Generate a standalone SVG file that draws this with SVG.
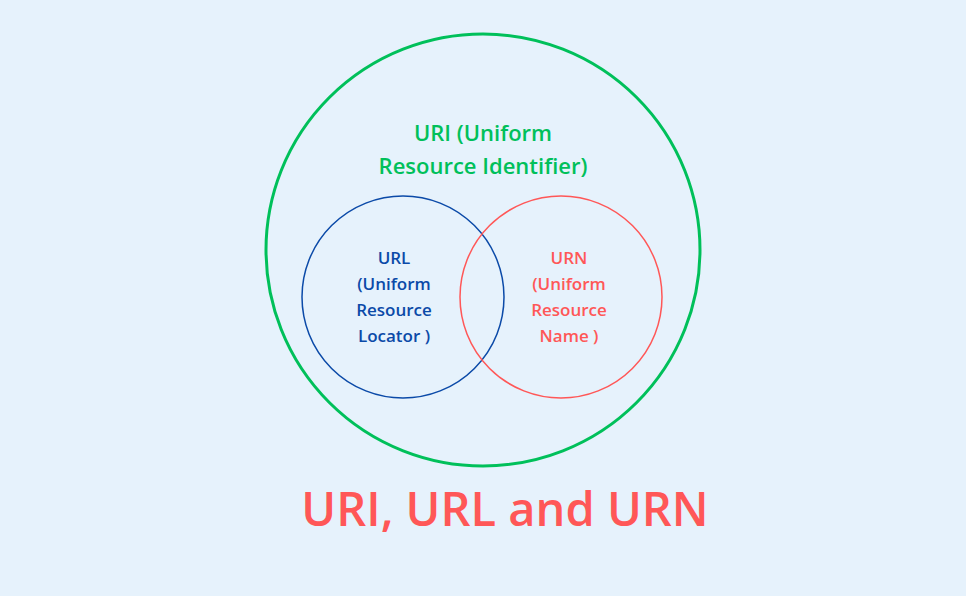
<svg xmlns="http://www.w3.org/2000/svg" width="966" height="596" viewBox="0 0 966 596">
<style>
.t{font-family:"Open Sans","Liberation Sans",sans-serif;font-weight:600;text-anchor:middle}
.s{font-size:17px}
</style>
<rect width="966" height="596" fill="#e6f2fc"/>
<g id="uri">
<ellipse cx="483" cy="250" rx="217" ry="216" fill="none" stroke="#00c05a" stroke-width="3"/>
<text class="t" x="483" y="141" font-size="22" fill="#00c05a">URI (Uniform</text>
<text class="t" x="483" y="174" font-size="22" fill="#00c05a">Resource Identifier)</text>
</g>
<g id="url">
<circle cx="403" cy="297" r="101" fill="none" stroke="#0b4aa8" stroke-width="1.5"/>
<text class="t s" x="394" y="264" fill="#0b4aa8">URL</text>
<text class="t s" x="394" y="290" fill="#0b4aa8">(Uniform</text>
<text class="t s" x="394" y="316" fill="#0b4aa8">Resource</text>
<text class="t s" x="394" y="342" fill="#0b4aa8">Locator )</text>
</g>
<g id="urn">
<circle cx="561" cy="297" r="101" fill="none" stroke="#ff5757" stroke-width="1.5"/>
<text class="t s" x="569" y="264" fill="#ff5757">URN</text>
<text class="t s" x="569" y="290" fill="#ff5757">(Uniform</text>
<text class="t s" x="569" y="316" fill="#ff5757">Resource</text>
<text class="t s" x="569" y="342" fill="#ff5757">Name )</text>
</g>
<g id="connectors"/>
<text class="t" x="505" y="526" font-size="47" font-weight="700" fill="#ff5757">URI, URL and URN</text>
</svg>
